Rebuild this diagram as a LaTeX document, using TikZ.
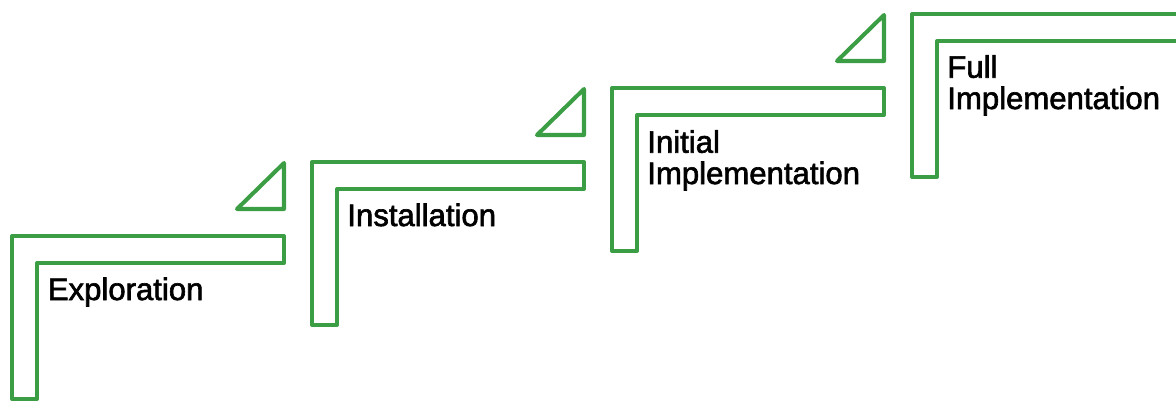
\documentclass[tikz,border=0pt]{standalone}
\usepackage{fontspec}
\setmainfont{Liberation Sans}
\newfontfamily\labelfont{Liberation Sans}[FakeBold=2]
\definecolor{stairgreen}{RGB}{60,158,68}
\tikzset{
  stair/.style={draw=stairgreen, line width=2.3pt, line join=round},
  steplabel/.style={anchor=base west, inner sep=0pt, align=left,
    font=\labelfont\fontsize{17.7pt}{17.8pt}\selectfont}
}
\begin{document}
\begin{tikzpicture}
   \useasboundingbox (0, 0) rectangle (23.52, 8.04);
   \clip (0, 0) rectangle (23.52, 8.04);

   % stairs
   \draw[stair] (0.24, 0.06) -- (0.24, 3.32) -- (5.68, 3.32) -- (5.68, 2.78) -- (0.74, 2.78) -- (0.74, 0.06) -- cycle;
   \draw[stair] (6.24, 1.54) -- (6.24, 4.80) -- (11.68, 4.80) -- (11.68, 4.26) -- (6.74, 4.26) -- (6.74, 1.54) -- cycle;
   \draw[stair] (12.24, 3.02) -- (12.24, 6.28) -- (17.68, 6.28) -- (17.68, 5.74) -- (12.74, 5.74) -- (12.74, 3.02) -- cycle;
   \draw[stair] (18.24, 4.50) -- (18.24, 7.76) -- (23.68, 7.76) -- (23.68, 7.22) -- (18.74, 7.22) -- (18.74, 4.50) -- cycle;

   % triangles
   \draw[stair] (5.68, 4.78) -- (5.68, 3.86) -- (4.74, 3.86) -- cycle;
   \draw[stair] (11.68, 6.26) -- (11.68, 5.34) -- (10.74, 5.34) -- cycle;
   \draw[stair] (17.68, 7.74) -- (17.68, 6.82) -- (16.74, 6.82) -- cycle;

   % labels (base = last line)
   \node[steplabel] (exploration) at (0.95, 2.04) {Exploration};
   \node[steplabel] (installation) at (6.94, 3.52) {Installation};
   \node[steplabel] (initial) at (12.94, 4.36) {Initial\\Implementation};
   \node[steplabel] (full) at (18.94, 5.86) {Full\\Implementation};
  \end{tikzpicture}
\end{document}
